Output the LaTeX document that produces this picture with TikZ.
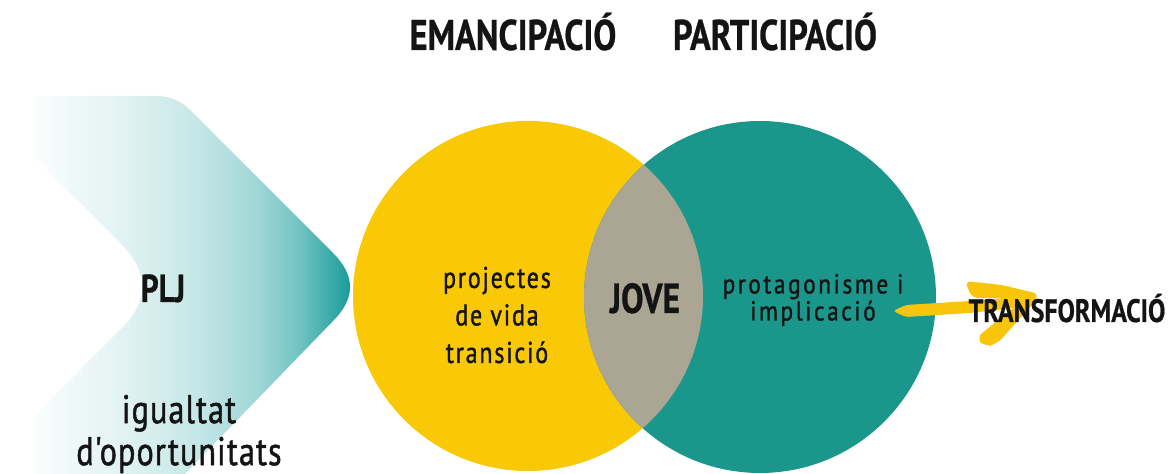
\documentclass[tikz,border=0pt]{standalone}
\usepackage{fontspec}
\setmainfont{PT Sans}
\newfontfamily\headfont{PT Sans}[FakeStretch=0.8,FakeBold=0.6]
\newfontfamily\bodyfont{PT Sans}[FakeStretch=0.8,LetterSpace=6,FakeBold=1.2]
\newfontfamily\protfont{PT Sans}[FakeStretch=0.85,LetterSpace=9.5,FakeBold=1.2]
\newfontfamily\eqfont{PT Sans}[FakeStretch=0.8,LetterSpace=3,FakeBold=1.2]
\definecolor{ink}{HTML}{141414}
\definecolor{yel}{HTML}{F9C806}
\definecolor{tealc}{HTML}{1A978A}
\definecolor{lens}{HTML}{ABA594}
\definecolor{arrowy}{HTML}{F8C50A}
\definecolor{g0}{HTML}{F3FAFA}
\definecolor{g1}{HTML}{E3F3F3}
\definecolor{g2}{HTML}{C5E7E7}
\definecolor{g3}{HTML}{A0D7D6}
\definecolor{g4}{HTML}{70C3C2}
\definecolor{g5}{HTML}{3DACAB}
\definecolor{g6}{HTML}{0F9895}
\pgfdeclarehorizontalshading{chev}{100bp}{color(0bp)=(white); color(25bp)=(white); color(30bp)=(g0); color(39bp)=(g1); color(51bp)=(g2); color(60bp)=(g3); color(66.5bp)=(g4); color(71bp)=(g5); color(75bp)=(g6); color(100bp)=(g6)}
\tikzset{
  txt/.style={inner sep=0pt, text=ink},
  head/.style={txt, font=\headfont\bfseries\fontsize{21.5}{24}\selectfont},
  body/.style={txt, align=center, font=\bodyfont\fontsize{15}{18.75}\selectfont},
}
\begin{document}
\begin{tikzpicture}[x=0.5pt,y=-0.5pt]
\useasboundingbox (0,0) rectangle (1175,474);
% chevron
\shade[shading=chev] (27,474) -- (27,423) -- (121.1,328.9)
  .. controls (149.37,300.63) and (149.37,272.37) .. (121.1,244.1)
  -- (27,150) -- (27,106) .. controls (27,99.3) and (33.7,96) .. (37,96)
  -- (156,96) .. controls (169.3,96) and (180.7,100.7) .. (190.1,110.1)
  -- (333.1,253.1) .. controls (355.7,275.7) and (355.7,298.3) .. (333.1,320.9)
  -- (185,474) -- cycle;
% circles
\fill[yel] (528,296) circle (175);
\fill[tealc] (760,297) circle (176);
\begin{scope}
  \clip (528,296) circle (175);
  \fill[lens] (760,297) circle (176);
\end{scope}
% texts
\node[head, anchor=base] (eman) at (513,50) {EMANCIPACIÓ};
\node[head, anchor=base] (part) at (775,50) {PARTICIPACIÓ};
\node[txt, anchor=base, font=\headfont\bfseries\fontsize{19.5}{22}\selectfont] (plj) at (163,302) {PLJ};
\node[txt, align=center, font=\eqfont\fontsize{20}{21}\selectfont] (igual) at (179,434) {igualtat\\d'oportunitats};
\node[body] (proj) at (497,315) {projectes\\de vida\\transició};
\node[txt, anchor=base, font=\headfont\bfseries\fontsize{21}{22}\selectfont] (jove) at (645,313) {JOVE};
\node[txt, align=center, font=\protfont\fontsize{13.7}{13.5}\selectfont] (prot) at (813,300) {protagonisme i\\implicació};
% arrow
\coordinate (astart) at (893,311);
\coordinate (atip) at (1036,296);
\fill[arrowy, rounded corners=1.5pt] (astart) -- (906,305) -- (970,301) -- (atip) -- (1032,306) -- (970,313) -- (906,317) -- cycle;
\fill[arrowy, rounded corners=3pt] (965,281) -- (1002,285) -- (1039,294) -- (1031,306) -- (1000,298) -- (972,298) -- cycle;
\fill[arrowy, rounded corners=4pt] (1039,297) -- (997,344) -- (985,347) -- (976,338) -- (1018,304) -- cycle;
\node[txt, anchor=base, font=\headfont\bfseries\fontsize{16.2}{17}\selectfont] (trans) at (1067,322) {TRANSFORMACIÓ};
\end{tikzpicture}
\end{document}
